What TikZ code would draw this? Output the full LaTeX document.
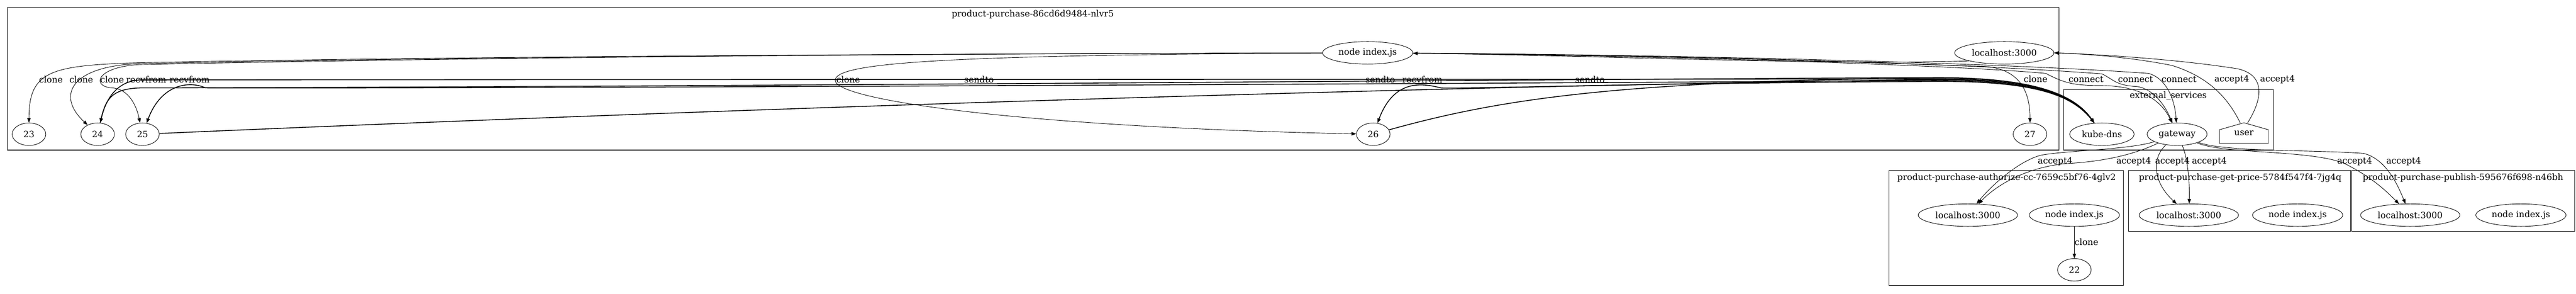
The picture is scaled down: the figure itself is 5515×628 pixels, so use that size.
\documentclass[tikz,border=0pt]{standalone}
\usepackage{fontspec}
\setmainfont{DejaVu Serif}
\usetikzlibrary{arrows.meta,shapes.geometric}

\tikzset{
  proc/.style={ellipse,draw,minimum width=54pt,minimum height=36pt,inner xsep=4.3pt,inner ysep=2pt},
  lbl/.style={inner sep=1pt},
  box/.style={draw,line width=0.9pt},
  bund/.style={line width=1.3pt},
}

\begin{document}
\begin{tikzpicture}[x=0.75pt,y=-0.75pt,line width=0.75pt,>={Triangle[length=7.5pt,width=5.5pt]},
        every node/.style={font=\fontsize{14}{16}\selectfont}]
    \useasboundingbox (0,0) rectangle (5515,628);

    % clusters
    \draw[box] (16,16) rectangle (4408,321);
    \node (mainc) at (2211,31) {product-purchase-86cd6d9484-nlvr5};
    \draw[box] (4418,191) rectangle (4867,321);
    \node (extc) at (4642,205) {external\_services};
    \draw[box] (4044,365) rectangle (4546,611);
    \node (authc) at (4296,380) {product-purchase-authorize-cc-7659c5bf76-4glv2};
    \draw[box] (4557,365) rectangle (5032,495);
    \node (pricec) at (4796,380) {product-purchase-get-price-5784f547f4-7jg4q};
    \draw[box] (5035,365) rectangle (5512,495);
    \node (pubc) at (5273,380) {product-purchase-publish-595676f698-n46bh};

    % main pod
    \node[proc] (js) at (2928,113) {node index.js};
    \node[proc] (lh) at (4291,113) {localhost:3000};
    \node[proc] (23) at (62,287) {23};
    \node[proc] (24) at (209,287) {24};
    \node[proc] (25) at (305,287) {25};
    \node[proc] (26) at (2940,287) {26};
    \node[proc] (27) at (4346,287) {27};

    % external services
    \node[proc] (dns) at (4500,287) {kube-dns};
    \node[proc] (gw) at (4661,287) {gateway};
    \node[minimum width=78pt,minimum height=32.25pt,inner sep=0pt] (user) at (4804,284.5) {user};
    \draw (user.south west) -- (user.south east) -- ([yshift=-11.25pt]user.north east)
        -- (user.north) -- ([yshift=-11.25pt]user.north west) -- cycle;

    % other pods
    \node[proc] (alh) at (4213,460) {localhost:3000};
    \node[proc] (ajs) at (4441,460) {node index.js};
    \node[proc] (22) at (4441,577) {22};
    \node[proc] (plh) at (4686,460) {localhost:3000};
    \node[proc] (pjs) at (4919,460) {node index.js};
    \node[proc] (blh) at (5160,460) {localhost:3000};
    \node[proc] (bjs) at (5397,460) {node index.js};

    % clone
    \draw[->] (js) .. controls (1500,116) and (700,126) .. (300,134) .. controls (110,140) and (62,150) .. (23);
    \draw[->] (js) .. controls (1500,116) and (700,128) .. (300,136) .. controls (150,141) and (120,205) .. (24);
    \draw[->] (js) .. controls (1500,116) and (700,130) .. (300,138) .. controls (205,143) and (195,185) .. (240,188)
        .. controls (275,190) and (292,225) .. (25);
    \draw[->] (js) .. controls (2000,118) and (1788,135) .. (1788,172) .. controls (1790,215) and (2200,272) .. (26);
    \draw[->] (js) .. controls (3600,118) and (4000,135) .. (4250,142) .. controls (4320,148) and (4346,190) .. (27);
    \draw[->] (ajs) -- (22);
    \node[lbl] (c23) at (109,170) {clone};
    \node[lbl] (c24) at (174,170) {clone};
    \node[lbl] (c25) at (240,170) {clone};
    \node[lbl] (c26) at (1816,170) {clone};
    \node[lbl] (c27) at (4358,169) {clone};
    \node[lbl] (c22) at (4467,518) {clone};

    % connect
    \draw[->] (js) .. controls (3600,120) and (4200,140) .. (4380,157) .. controls (4420,178) and (4440,183) .. (4500,183)
        .. controls (4590,184) and (4630,220) .. (gw);
    \draw[->] (js) .. controls (3600,118) and (4200,135) .. (4500,158) .. controls (4525,170) and (4530,183) .. (4575,185)
        .. controls (4610,190) and (4635,225) .. (gw);
    \draw[->] (js) .. controls (3600,117) and (4300,135) .. (4600,157) .. controls (4630,165) and (4655,200) .. (gw);
    \draw[->] (lh.south west) .. controls (3900,140) and (3400,118) .. (js);
    \node[lbl] (k1) at (4466,170) {connect};
    \node[lbl] (k2) at (4572,170) {connect};
    \node[lbl] (k3) at (4665,170) {connect};

    % sendto / recvfrom
    \draw[->,bund] (24) .. controls (225,215) and (235,190) .. (300,188) .. controls (1500,186) and (3500,168) .. (4150,166)
        .. controls (4350,166) and (4440,200) .. (dns);
    \draw[->,bund] (dns) .. controls (4440,200) and (4350,169) .. (4150,169) .. controls (3000,170) and (1000,170) .. (300,171)
        .. controls (255,173) and (228,205) .. (24);
    \draw[->,bund] (25) .. controls (1500,235) and (3000,185) .. (4150,170) .. controls (4350,170) and (4440,200) .. (dns);
    \draw[->,bund] (dns) .. controls (4440,200) and (4350,172) .. (4150,172) .. controls (3000,180) and (800,190) .. (440,188)
        .. controls (405,172) and (345,180) .. (25);
    \draw[->,bund] (26) .. controls (3200,215) and (3450,172) .. (4150,167) .. controls (4350,167) and (4440,200) .. (dns);
    \draw[->,bund] (dns) .. controls (4440,200) and (4350,174) .. (4150,174) .. controls (3500,178) and (3150,190) .. (3085,188)
        .. controls (3045,178) and (2985,168) .. (26);
    \node[lbl] (r24) at (313,170) {recvfrom};
    \node[lbl] (r25) at (406,170) {recvfrom};
    \node[lbl] (s24) at (2096,170) {sendto};
    \node[lbl] (s25) at (2955,170) {sendto};
    \node[lbl] (r26) at (3045,170) {recvfrom};
    \node[lbl] (s26) at (3404,170) {sendto};

    % accept4
    \draw[->] ([xshift=-6pt]user.north) .. controls (4770,210) and (4730,165) .. (4650,140)
        .. controls (4550,120) and (4450,115) .. (lh.east);
    \draw[->] ([xshift=6pt]user.north) .. controls (4845,210) and (4850,160) .. (4790,147)
        .. controls (4650,125) and (4480,116) .. (lh.east);
    \node[lbl] (u1) at (4778,170) {accept4};
    \node[lbl] (u2) at (4876,170) {accept4};

    \draw[->] (gw) .. controls (4560,320) and (4420,322) .. (4369,332) .. controls (4320,345) and (4260,400) .. (alh);
    \draw[->] (gw) .. controls (4580,325) and (4520,345) .. (4420,350) .. controls (4330,360) and (4270,400) .. (alh);
    \draw[->] (gw) .. controls (4605,340) and (4610,390) .. (plh);
    \draw[->] (gw) .. controls (4685,340) and (4688,400) .. (plh);
    \draw[->] (gw) .. controls (4760,330) and (4950,320) .. (5020,350) .. controls (5080,380) and (5110,410) .. (blh);
    \draw[->] (gw) .. controls (4760,325) and (4950,320) .. (5060,328) .. controls (5110,340) and (5135,400) .. (blh);
    \node[lbl] (g1) at (4400,345) {accept4};
    \node[lbl] (g2) at (4568,345) {accept4};
    \node[lbl] (g3) at (4651,345) {accept4};
    \node[lbl] (g4) at (4730,345) {accept4};
    \node[lbl] (g5) at (5041,345) {accept4};
    \node[lbl] (g6) at (5146,345) {accept4};
\end{tikzpicture}
\end{document}
